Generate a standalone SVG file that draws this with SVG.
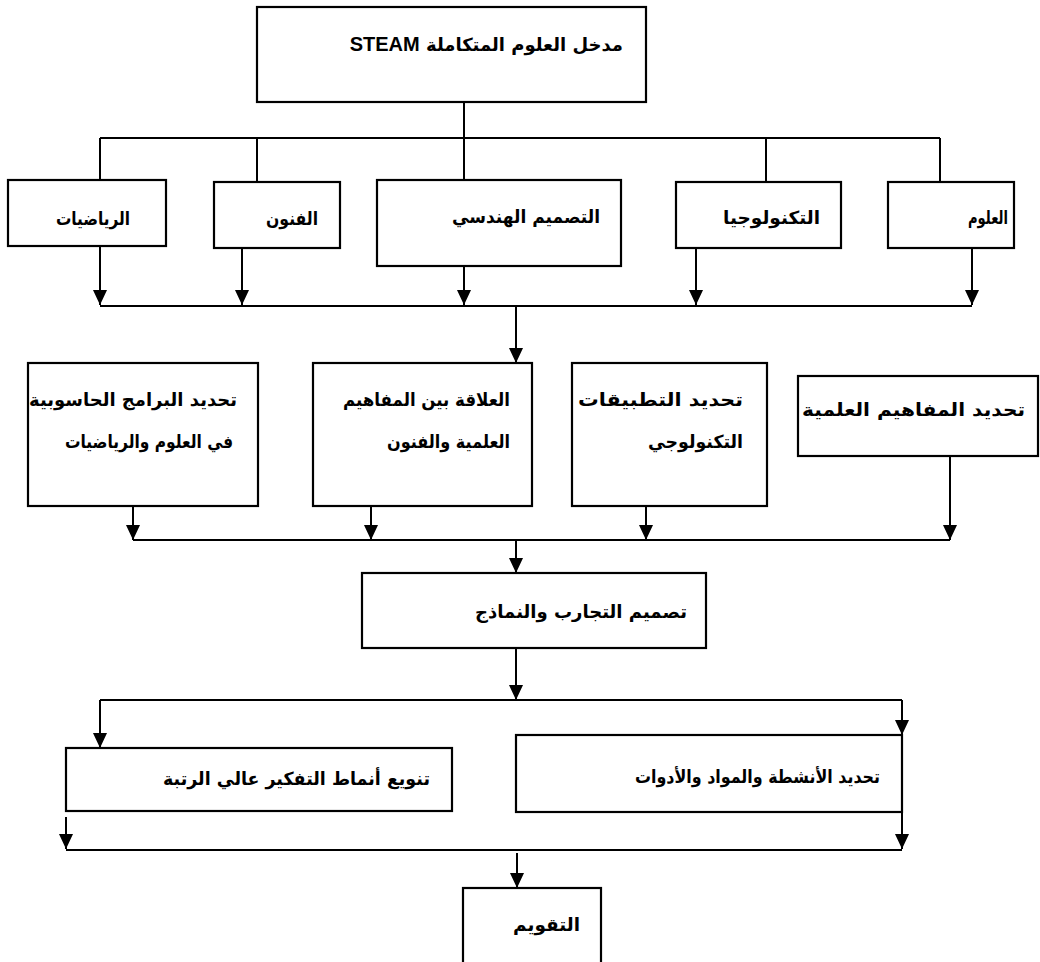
<svg xmlns="http://www.w3.org/2000/svg" width="1040" height="962" viewBox="0 0 1040 962">
<style>
.box{fill:#fff;stroke:#000;stroke-width:2.2}
.ln{fill:none;stroke:#000;stroke-width:2}
.t{font-family:"DejaVu Sans",sans-serif;font-weight:bold;font-size:18px;fill:#000;direction:rtl;text-anchor:start;unicode-bidi:embed}
.lat{font-family:"Liberation Sans",Arial,sans-serif;font-size:20px}
</style>
<defs>
<marker id="ah" viewBox="0 0 15 14" refX="15" refY="7" markerWidth="15" markerHeight="14" markerUnits="userSpaceOnUse" orient="auto">
<path d="M0,0 L15,7 L0,14 z" fill="#000"/>
</marker>
</defs>
<rect width="1040" height="962" fill="#fff"/>
<g id="connectors">
<path class="ln" d="M464,102 V138 M100,138 H940 M100,138 V180 M257,138 V182 M464,138 V180 M766,138 V182 M940,138 V182"/>
<path class="ln" d="M100,306 H972"/>
<path class="ln" d="M133,540 H950"/>
<path class="ln" d="M100,700 H902"/>
<path class="ln" d="M66,850 H902"/>
<path class="ln" d="M902,735 V812"/>
<g marker-end="url(#ah)">
<path class="ln" d="M100,246 V305"/>
<path class="ln" d="M242,248 V305"/>
<path class="ln" d="M464,266 V305"/>
<path class="ln" d="M696,248 V305"/>
<path class="ln" d="M972,248 V305"/>
<path class="ln" d="M516,306 V363"/>
<path class="ln" d="M133,506 V540"/>
<path class="ln" d="M371,506 V540"/>
<path class="ln" d="M646,506 V540"/>
<path class="ln" d="M950,456 V540"/>
<path class="ln" d="M516,540 V573"/>
<path class="ln" d="M516,648 V700"/>
<path class="ln" d="M100,700 V748"/>
<path class="ln" d="M902,700 V735"/>
<path class="ln" d="M902,812 V849"/>
<path class="ln" d="M66,817 V849"/>
<path class="ln" d="M517,853 V888"/>
</g>
</g>
<g id="n-top"><rect class="box" x="257" y="7" width="389" height="95"/><text class="t" x="623" y="51">مدخل العلوم المتكاملة <tspan class="lat">STEAM</tspan></text></g>
<g id="n-math"><rect class="box" x="8" y="180" width="158" height="66"/><text class="t" x="130" y="225" textLength="74" lengthAdjust="spacingAndGlyphs">الرياضيات</text></g>
<g id="n-arts"><rect class="box" x="214" y="182" width="126" height="66"/><text class="t" x="318" y="225" textLength="52" lengthAdjust="spacingAndGlyphs">الفنون</text></g>
<g id="n-eng"><rect class="box" x="377" y="180" width="244" height="86"/><text class="t" x="600" y="223" textLength="148" lengthAdjust="spacingAndGlyphs">التصميم الهندسي</text></g>
<g id="n-tech"><rect class="box" x="676" y="182" width="165" height="66"/><text class="t" x="820" y="224" textLength="97" lengthAdjust="spacingAndGlyphs">التكنولوجيا</text></g>
<g id="n-sci"><rect class="box" x="888" y="182" width="126" height="66"/><text class="t" x="1008" y="224" textLength="40" lengthAdjust="spacingAndGlyphs">العلوم</text></g>
<g id="n-prog"><rect class="box" x="28" y="363" width="230" height="143"/><text class="t" x="237" y="406" textLength="208" lengthAdjust="spacingAndGlyphs">تحديد البرامج الحاسوبية</text><text class="t" x="233" y="448" textLength="168" lengthAdjust="spacingAndGlyphs">في العلوم والرياضيات</text></g>
<g id="n-rel"><rect class="box" x="313" y="363" width="219" height="143"/><text class="t" x="510" y="406" textLength="167" lengthAdjust="spacingAndGlyphs">العلاقة بين المفاهيم</text><text class="t" x="510" y="448" textLength="123" lengthAdjust="spacingAndGlyphs">العلمية والفنون</text></g>
<g id="n-app"><rect class="box" x="572" y="363" width="195" height="143"/><text class="t" x="743" y="406" textLength="165" lengthAdjust="spacingAndGlyphs">تحديد التطبيقات</text><text class="t" x="743" y="448" textLength="95" lengthAdjust="spacingAndGlyphs">التكنولوجي</text></g>
<g id="n-con"><rect class="box" x="798" y="376" width="240" height="80"/><text class="t" x="1025" y="416" textLength="223" lengthAdjust="spacingAndGlyphs">تحديد المفاهيم العلمية</text></g>
<g id="n-design"><rect class="box" x="362" y="573" width="344" height="75"/><text class="t" x="687" y="618" textLength="212" lengthAdjust="spacingAndGlyphs">تصميم التجارب والنماذج</text></g>
<g id="n-div"><rect class="box" x="66" y="748" width="386" height="63"/><text class="t" x="430" y="785" textLength="267" lengthAdjust="spacingAndGlyphs">تنويع أنماط التفكير عالي الرتبة</text></g>
<g id="n-act"><rect class="box" x="516" y="735" width="386" height="77"/><text class="t" x="880" y="783" textLength="245" lengthAdjust="spacingAndGlyphs">تحديد الأنشطة والمواد والأدوات</text></g>
<g id="n-eval"><rect class="box" x="463" y="888" width="138" height="84"/><text class="t" x="580" y="931" textLength="67" lengthAdjust="spacingAndGlyphs">التقويم</text></g>
</svg>
